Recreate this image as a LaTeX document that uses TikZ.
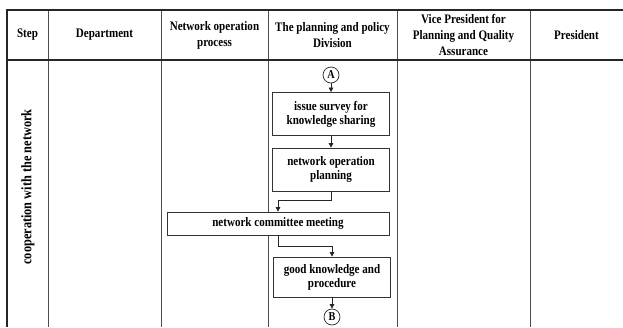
\documentclass[tikz,border=0pt]{standalone}
\usepackage{fontspec}
\setmainfont{Liberation Serif}[FakeStretch=0.85]
\usetikzlibrary{arrows.meta}
\tikzset{
  frame/.style={line width=1.2pt, black!85},
  divider/.style={line width=0.8pt, black!70},
  hdr/.style={align=center, font=\bfseries\fontsize{13}{16}\selectfont},
  steplbl/.style={align=center, font=\bfseries\fontsize{14.5}{16}\selectfont},
  procbox/.style={draw=black!80, fill=white, line width=0.7pt, align=center, minimum width=117pt, minimum height=43pt, inner sep=1pt, font=\bfseries\fontsize{13}{14}\selectfont},
  widebox/.style={procbox, minimum width=222pt, minimum height=23pt},
  conn/.style={draw=black!85, fill=white, line width=0.7pt, align=center, circle, minimum size=16pt, inner sep=0pt, font=\bfseries\fontsize{12}{12}\selectfont},
  arr/.style={line width=0.6pt, black!85, -{Triangle[width=4.5pt,length=4.5pt]}}
}
\begin{document}
\begin{tikzpicture}[x=1pt,y=-1pt]
\useasboundingbox (0,0) rectangle (623,327);
% table lines
\draw[divider] (48,10) -- (48,327);
\draw[divider] (161,10) -- (161,327);
\draw[divider] (268,10) -- (268,327);
\draw[divider] (397,10) -- (397,327);
\draw[divider] (530,10) -- (530,327);
\draw[frame] (7,10) -- (623,10);
\draw[frame] (7,60) -- (623,60);
\draw[frame] (7,9.4) -- (7,327);
% headers
\node[hdr] (h1) at (27.5,35) {Step};
\node[hdr] (h2) at (104.5,35) {Department};
\node[hdr] (h3) at (214.5,35) {Network operation\\process};
\node[hdr] (h4) at (332.5,35) {The planning and policy\\Division};
\node[hdr] (h5) at (463.5,34.5) {Vice President for\\Planning and Quality\\Assurance};
\node[hdr] (h6) at (576.5,35) {President};
% step label
\node[steplbl, rotate=90] (stp) at (28,187) {cooperation with the network};
% flow
\node[conn] (A) at (331,75) {A};
\node[procbox] (b1) at (331,114) {issue survey for\\knowledge sharing};
\node[procbox] (b2) at (331,169.5) {network operation\\planning};
\node[widebox] (cm) at (278,223.5) {network committee meeting};
\node[procbox, minimum height=40pt] (b4) at (332,277) {good knowledge and\\procedure};
\node[conn] (B) at (332,317) {B};
\draw[arr] (A) -- (b1);
\draw[arr] (b1) -- (b2);
\draw[arr] (b2.south) -- ++(0,9) -| (cm.north);
\draw[arr] (cm.south) -- ++(0,11) -| (b4.north);
\draw[arr] (b4) -- (B);
\end{tikzpicture}
\end{document}
